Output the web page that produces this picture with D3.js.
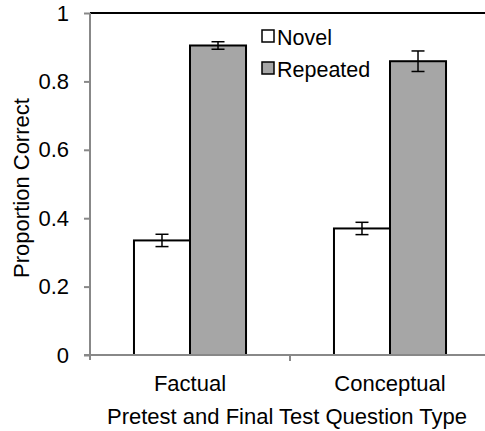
<!DOCTYPE html>
<html><head><meta charset="utf-8">
<script src="https://cdn.jsdelivr.net/npm/d3@7"></script>
<style>body{margin:0;background:#fff}svg{display:block;font-family:"Liberation Sans",Arial,Helvetica,sans-serif}</style>
</head><body>
<script>
const categories = ["Factual", "Conceptual"];
const seriesNames = ["Novel", "Repeated"];
const novelValues = [0.335, 0.370];
const repeatedValues = [0.905, 0.859];
const novelErrors = [0.018, 0.018];
const repeatedErrors = [0.011, 0.030];
const yTicks = [0, 0.2, 0.4, 0.6, 0.8, 1];
const yTickLabels = ["0", "0.2", "0.4", "0.6", "0.8", "1"];
const xTitle = "Pretest and Final Test Question Type";
const yTitle = "Proportion Correct";

const W = 485, H = 431;
const mLeft = 90, mRight = 490, mTop = 13, mBottom = 355;
const colors = {Novel: "#ffffff", Repeated: "#a6a6a6"};
const FS = 22;

const svg = d3.select("body").append("svg").attr("width", W).attr("height", H);

const y = d3.scaleLinear().domain([0, 1]).range([mBottom, mTop]);
const x0 = d3.scaleBand().domain(categories).range([mLeft, mRight]).paddingInner(0).paddingOuter(0);
const x1 = d3.scaleBand().domain(seriesNames).range([0, x0.bandwidth()]).paddingInner(0).paddingOuter(0.785);

const rows = categories.map((c, i) => ({
  cat: c,
  items: [
    {name: "Novel", v: novelValues[i], e: novelErrors[i]},
    {name: "Repeated", v: repeatedValues[i], e: repeatedErrors[i]}
  ]
}));

// top border
svg.append("line").attr("x1", mLeft).attr("x2", W).attr("y1", y(1)).attr("y2", y(1))
  .attr("stroke", "#000").attr("stroke-width", 2);

// bars
const g = svg.selectAll("g.cat").data(rows).enter().append("g")
  .attr("transform", d => `translate(${x0(d.cat)},0)`);
g.selectAll("rect").data(d => d.items).enter().append("rect")
  .attr("x", d => x1(d.name)).attr("width", x1.bandwidth())
  .attr("y", d => y(d.v)).attr("height", d => y(0) - y(d.v))
  .attr("fill", d => colors[d.name]).attr("stroke", "#000").attr("stroke-width", 2);

// error bars
const eb = g.selectAll("g.err").data(d => d.items).enter().append("g")
  .attr("stroke", "#000").attr("stroke-width", 1.5);
const cx = d => x1(d.name) + x1.bandwidth() / 2;
const cap = 6.5;
eb.append("line").attr("x1", cx).attr("x2", cx)
  .attr("y1", d => y(d.v + d.e)).attr("y2", d => y(d.v - d.e));
eb.append("line").attr("x1", d => cx(d) - cap).attr("x2", d => cx(d) + cap)
  .attr("y1", d => y(d.v + d.e)).attr("y2", d => y(d.v + d.e));
eb.append("line").attr("x1", d => cx(d) - cap).attr("x2", d => cx(d) + cap)
  .attr("y1", d => y(d.v - d.e)).attr("y2", d => y(d.v - d.e));

// y axis
const yAxis = d3.axisLeft(y).tickValues(yTicks).tickFormat((d, i) => yTickLabels[i]).tickSize(6).tickPadding(15);
const ya = svg.append("g").attr("transform", `translate(${mLeft},0)`).call(yAxis);
ya.select(".domain").attr("stroke", "#888").attr("stroke-width", 2).attr("d", `M0,${y(1)}V${y(0) + 5}`);
ya.selectAll(".tick line").attr("stroke", "#888").attr("stroke-width", 2);
ya.selectAll(".tick text").attr("font-size", FS).attr("fill", "#000").attr("font-family", "Liberation Sans, Arial, sans-serif");

// x axis
const xa = svg.append("g").attr("transform", `translate(0,${mBottom})`);
xa.append("line").attr("x1", mLeft - 6).attr("x2", W).attr("y1", 0).attr("y2", 0).attr("stroke", "#888").attr("stroke-width", 2);
xa.selectAll("line.sep").data(categories.slice(1)).enter().append("line")
  .attr("x1", d => x0(d)).attr("x2", d => x0(d)).attr("y1", 0).attr("y2", 6).attr("stroke", "#888").attr("stroke-width", 2);
xa.selectAll("text.cat").data(categories).enter().append("text")
  .attr("x", d => x0(d) + x0.bandwidth() / 2).attr("y", 36)
  .attr("text-anchor", "middle").attr("font-size", FS).text(d => d);

// titles
svg.append("text").attr("x", 287).attr("y", 424).attr("text-anchor", "middle").attr("font-size", FS).text(xTitle);
svg.append("text").attr("transform", `translate(29,${(mTop + mBottom) / 2 + 4}) rotate(-90)`)
  .attr("text-anchor", "middle").attr("font-size", FS).text(yTitle);

// legend
const lg = svg.selectAll("g.leg").data(seriesNames).enter().append("g")
  .attr("transform", (d, i) => `translate(262,${30 + i * 32})`);
lg.append("rect").attr("width", 12).attr("height", 12).attr("fill", d => colors[d]).attr("stroke", "#000").attr("stroke-width", 1.5);
lg.append("text").attr("x", 15).attr("y", 15).attr("font-size", 21.5).text(d => d);
</script>
</body></html>
